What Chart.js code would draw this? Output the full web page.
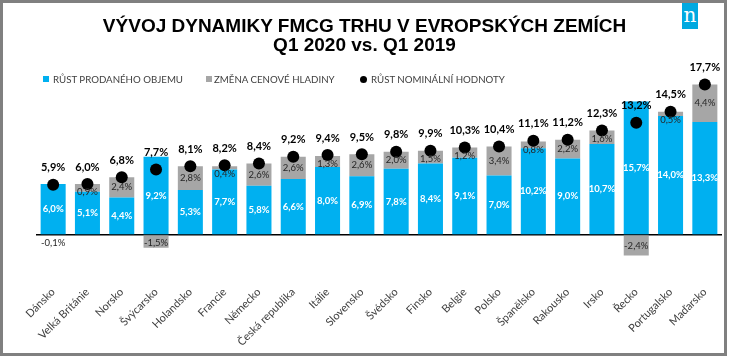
<!DOCTYPE html>
<html>
<head>
<meta charset="utf-8">
<script src="https://cdn.jsdelivr.net/npm/chart.js@4.4.0/dist/chart.umd.min.js"></script>
<style>
html,body{margin:0;padding:0;background:#fff;}
#wrap{position:relative;width:729px;height:359px;overflow:hidden;background:#fff;}
#c{position:absolute;left:0;top:0;}
#frame{position:absolute;left:0;top:0;width:721px;height:350px;border:3px solid #808080;pointer-events:none;}
.title{position:absolute;left:0;width:729px;text-align:center;font-family:"Liberation Sans Narrow","Liberation Sans",sans-serif;font-weight:bold;font-size:19px;line-height:19px;color:#000;white-space:nowrap;}
#logo{position:absolute;left:682px;top:3px;width:16px;height:26px;background:#00a9e0;color:#fff;font-family:"DejaVu Serif","Liberation Serif",serif;font-size:20px;line-height:24px;text-align:center;}
.lg{position:absolute;top:73px;font-family:Lato,sans-serif;font-size:9.7px;line-height:12px;color:#404040;white-space:nowrap;}
.sq{position:absolute;top:76px;width:6px;height:6px;}
.dot{position:absolute;top:75.5px;width:7px;height:7px;border-radius:50%;background:#000;}
</style>
</head>
<body>
<div id="wrap">
<canvas id="c" width="729" height="359"></canvas>
<div class="title" style="top:16px;">VÝVOJ DYNAMIKY FMCG TRHU V EVROPSKÝCH ZEMÍCH</div>
<div class="title" style="top:35px;">Q1 2020 vs. Q1 2019</div>
<div id="logo">n</div>
<div class="sq" style="left:43px;background:#00b0f0;"></div>
<div class="lg" style="left:53px;">RŮST PRODANÉHO OBJEMU</div>
<div class="sq" style="left:206px;background:#a6a6a6;"></div>
<div class="lg" style="left:214px;">ZMĚNA CENOVÉ HLADINY</div>
<div class="dot" style="left:360px;"></div>
<div class="lg" style="left:371px;">RŮST NOMINÁLNÍ HODNOTY</div>
<div id="frame"></div>
</div>
<script>
const categories = ["Dánsko","Velká Británie","Norsko","Švýcarsko","Holandsko","Francie","Německo","Česká republika","Itálie","Slovensko","Švédsko","Finsko","Belgie","Polsko","Španělsko","Rakousko","Irsko","Řecko","Portugalsko","Maďarsko"];
const volumeGrowth = [6.0,5.1,4.4,9.2,5.3,7.7,5.8,6.6,8.0,6.9,7.8,8.4,9.1,7.0,10.2,9.0,10.7,15.7,14.0,13.3];
const priceChange = [-0.1,0.9,2.4,-1.5,2.8,0.4,2.6,2.6,1.3,2.6,2.0,1.5,1.2,3.4,0.8,2.2,1.6,-2.4,0.5,4.4];
const nominalGrowth = [5.9,6.0,6.8,7.7,8.1,8.2,8.4,9.2,9.4,9.5,9.8,9.9,10.3,10.4,11.1,11.2,12.3,13.2,14.5,17.7];
const seriesNames = ["RŮST PRODANÉHO OBJEMU","ZMĚNA CENOVÉ HLADINY","RŮST NOMINÁLNÍ HODNOTY"];

const fmt = v => v.toFixed(1).replace('.', ',') + '%';

const labelPlugin = {
  id: 'labels',
  afterDatasetsDraw(chart) {
    const ctx = chart.ctx;
    const y0 = chart.scales.y.getPixelForValue(0);
    const m0 = chart.getDatasetMeta(0), m1 = chart.getDatasetMeta(1), m2 = chart.getDatasetMeta(2);
    ctx.save();
    ctx.textAlign = 'center';
    ctx.textBaseline = 'middle';
    for (let i = 0; i < categories.length; i++) {
      const b = m0.data[i];
      ctx.font = 'bold 9.5px Lato';
      ctx.fillStyle = '#ffffff';
      ctx.fillText(fmt(volumeGrowth[i]), b.x, (b.y + b.base) / 2);
      const g = m1.data[i];
      const top = Math.min(g.y, g.base), bot = Math.max(g.y, g.base);
      let gy = (top + bot) / 2;
      if (priceChange[i] >= 0) gy = Math.max(gy, top + 8); else gy = Math.max(gy, y0 + 8);
      ctx.font = '9.5px Lato';
      ctx.fillStyle = '#262626';
      ctx.fillText(fmt(priceChange[i]), g.x, gy);
      const p = m2.data[i];
      ctx.font = 'bold 11px Lato';
      ctx.fillStyle = '#000';
      ctx.fillText(fmt(nominalGrowth[i]), p.x, p.y - 17);
    }
    ctx.restore();
  }
};

new Chart(document.getElementById('c'), {
  type: 'bar',
  data: {
    labels: categories,
    datasets: [
      { label: seriesNames[0], data: volumeGrowth, backgroundColor: '#00b0f0', stack: 's', order: 1, barPercentage: 0.73, categoryPercentage: 1 },
      { label: seriesNames[1], data: priceChange, backgroundColor: '#a6a6a6', stack: 's', order: 1, barPercentage: 0.73, categoryPercentage: 1 },
      { type: 'line', label: seriesNames[2], data: nominalGrowth, showLine: false, pointRadius: 6, pointBackgroundColor: '#000', pointBorderColor: '#000', pointBorderWidth: 0, order: 0 }
    ]
  },
  options: {
    responsive: false,
    animation: false,
    layout: { padding: { left: 36, right: 7, top: 65, bottom: 0 }, autoPadding: false },
    plugins: { legend: { display: false }, title: { display: false }, tooltip: { enabled: false } },
    scales: {
      x: {
        stacked: true,
        grid: { display: false, drawTicks: false },
        border: { display: false },
        ticks: { autoSkip: false, maxRotation: 45, minRotation: 45, padding: 8, color: '#404040', font: { family: 'Lato', size: 11 } },
        afterFit(s) { s.height = 81.5; }
      },
      y: {
        stacked: true,
        min: -5, max: 20,
        ticks: { display: false, stepSize: 5 },
        grid: { drawTicks: false, color: c => c.tick.value === 0 ? '#000' : 'rgba(0,0,0,0)', lineWidth: c => c.tick.value === 0 ? 1.5 : 0 },
        border: { display: false },
        afterFit(s) { s.width = 0; }
      }
    }
  },
  plugins: [labelPlugin]
});
</script>
</body>
</html>
